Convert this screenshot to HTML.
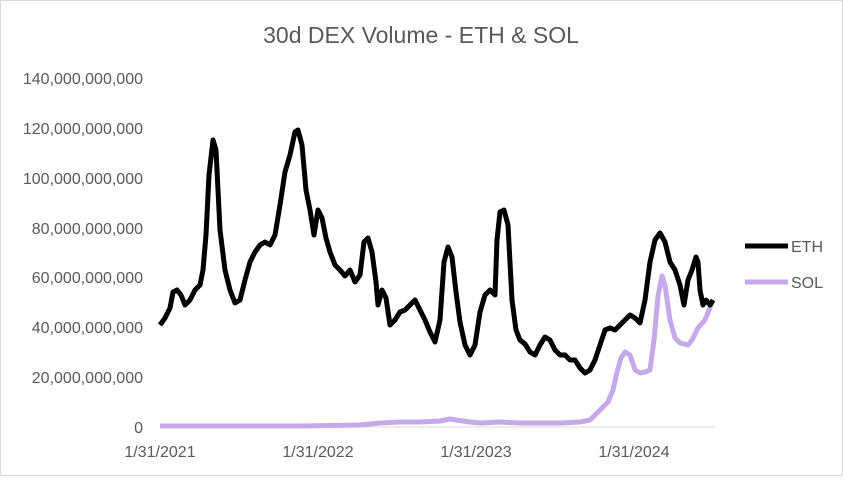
<!DOCTYPE html>
<html><head><meta charset="utf-8"><style>
body{margin:0;background:#fff}
svg text{font-family:"Liberation Sans",sans-serif;fill:#595959}
</style></head><body>
<svg width="843" height="476" xmlns="http://www.w3.org/2000/svg">
<rect x="0.5" y="0.5" width="842" height="475" fill="#fff" stroke="#d9d9d9"/>
<text x="421" y="43" font-size="23" text-anchor="middle">30d DEX Volume - ETH &amp; SOL</text>
<g font-size="16" text-anchor="end">
<text x="143" y="84">140,000,000,000</text>
<text x="143" y="134">120,000,000,000</text>
<text x="143" y="184">100,000,000,000</text>
<text x="143" y="234">80,000,000,000</text>
<text x="143" y="283">60,000,000,000</text>
<text x="143" y="333">40,000,000,000</text>
<text x="143" y="383">20,000,000,000</text>
<text x="143" y="433">0</text>
</g>
<line x1="160" y1="427" x2="715" y2="427" stroke="#d9d9d9"/>
<g font-size="16" text-anchor="middle">
<text x="160" y="457">1/31/2021</text>
<text x="318" y="457">1/31/2022</text>
<text x="476" y="457">1/31/2023</text>
<text x="634" y="457">1/31/2024</text>
</g>
<polyline fill="none" stroke="#c5a9e8" stroke-width="5" stroke-linejoin="round" points="160,426 300,426 360,425 380,423 400,422 420,422 440,421 450,419 456,420 470,422 480,423 500,422 520,423 540,423 560,423 580,422 590,420 600,410 608,402 613,390 617,372 621,358 625,352 630,355 635,370 640,373 645,372 650,370 654,340 658,296 662,276 665,285 670,320 675,338 680,343 688,345 692,340 698,328 705,320 713,300"/>
<polyline fill="none" stroke="#000" stroke-width="5" stroke-linejoin="round" points="160,325 165,318 170,308 173,292 177,290 181,295 185,305 190,300 195,290 200,285 203,270 206,235 209,175 213,140 216,150 220,230 225,270 230,290 235,303 240,300 245,280 250,262 255,252 260,245 265,242 270,245 275,235 280,205 285,172 290,155 295,132 298,130 302,145 306,190 310,210 314,235 318,210 322,218 326,238 330,252 335,265 340,270 345,276 350,270 355,282 360,275 364,242 368,238 372,252 376,282 378,305 382,290 386,298 390,325 395,320 400,312 405,310 410,305 415,300 420,310 425,320 430,332 435,342 440,320 444,262 448,247 452,257 456,292 460,322 465,345 470,355 475,345 480,312 485,295 490,290 495,295 497,240 500,212 504,210 508,225 512,300 516,330 520,340 525,344 530,352 535,355 540,345 545,337 550,340 555,350 560,355 565,355 570,360 575,360 580,368 585,373 590,370 595,360 600,345 605,330 610,328 615,330 620,325 625,320 630,315 635,318 640,323 645,300 650,262 655,240 660,233 665,242 670,262 675,270 680,285 684,305 688,280 692,270 696,257 698,262 700,290 703,305 706,300 710,305 713,300"/>
<line x1="745" y1="246" x2="788" y2="246" stroke="#000" stroke-width="5"/>
<text x="791" y="252" font-size="16" text-anchor="start">ETH</text>
<line x1="745" y1="282" x2="788" y2="282" stroke="#c5a9e8" stroke-width="5"/>
<text x="791" y="288" font-size="16" text-anchor="start">SOL</text>
</svg>
</body></html>
